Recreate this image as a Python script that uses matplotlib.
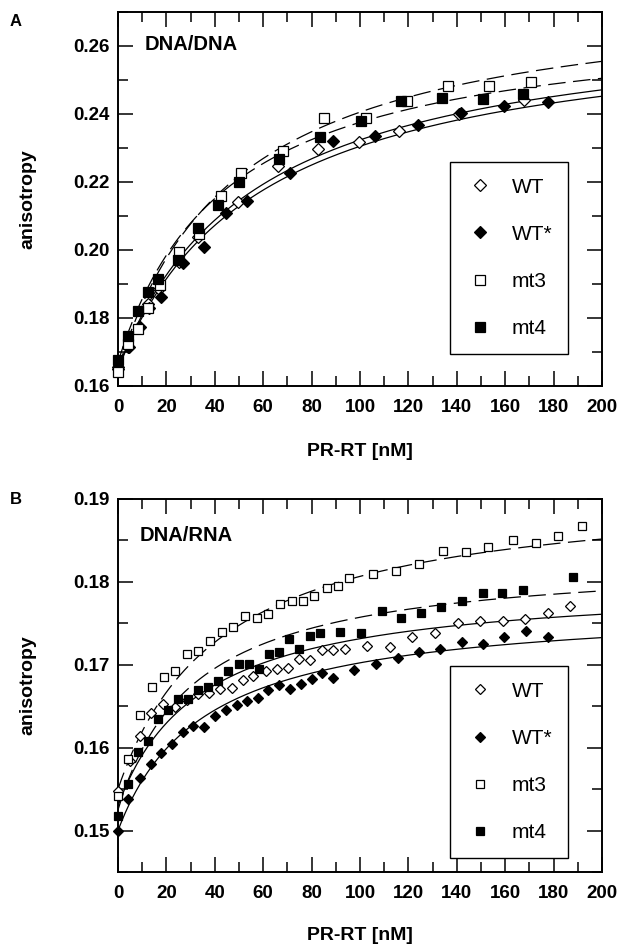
import matplotlib
matplotlib.use("Agg")
import matplotlib.pyplot as plt
import numpy as np
from matplotlib.ticker import MultipleLocator, FormatStrFormatter

plt.rcParams["font.family"] = ["Liberation Sans", "DejaVu Sans"]
plt.rcParams["font.weight"] = "bold"

W_PX, H_PX, DPI = 623, 946, 100

# ---- panel A: DNA/DNA ------------------------------------------------------
A_WT_X = [0, 4, 8.5, 12.5, 17, 25, 33.2, 49.7, 66.2, 82.8, 99.7, 116.2, 141, 167.8]
A_WT_Y = [0.1650, 0.1715, 0.1775, 0.1840, 0.1885, 0.1965, 0.2039, 0.2142, 0.2248,
          0.2297, 0.2319, 0.2351, 0.2400, 0.2441]
A_WTS_X = [0, 4.5, 9, 13, 17.8, 27, 35.7, 44.6, 53.2, 71.1, 88.7, 106.2, 124.1, 141.7, 159.6, 177.8]
A_WTS_Y = [0.1655, 0.1715, 0.1775, 0.1830, 0.1863, 0.1963, 0.2008, 0.2108, 0.2144, 0.2226,
           0.2321, 0.2335, 0.2368, 0.2402, 0.2424, 0.2436]
A_MT3_X = [0, 4, 8.4, 12.5, 17.4, 25.3, 33.6, 42.4, 50.8, 68, 85.2, 102.5, 119.3, 136.2, 153.4, 170.5]
A_MT3_Y = [0.1642, 0.1723, 0.1767, 0.1829, 0.1897, 0.1995, 0.2047, 0.2159, 0.2226, 0.2291,
           0.2387, 0.2387, 0.2439, 0.2482, 0.2482, 0.2495]
A_MT4_X = [0, 4, 8.4, 12.5, 16.6, 24.9, 33.2, 41.4, 50.1, 66.6, 83.5, 100.3, 116.9, 133.8, 150.7, 167.2]
A_MT4_Y = [0.1676, 0.1747, 0.1821, 0.1877, 0.1914, 0.1971, 0.2064, 0.2132, 0.2201, 0.2267,
           0.2333, 0.2378, 0.2439, 0.2446, 0.2444, 0.2458]
# hyperbolic binding fits: (y0, amplitude, Kd)
A_FITS = {"WT": (0.165, 0.1051, 56.0), "WT*": (0.165, 0.1035, 58.0),
          "mt3": (0.165, 0.1128, 49.3), "mt4": (0.167, 0.1023, 45.0)}

# ---- panel B: DNA/RNA ------------------------------------------------------
B_WT_X = [0, 4.9, 9.1, 13.6, 18.5, 23.6, 28.4, 33.2, 37.7, 42.1, 47, 51.5, 55.9, 61.2, 65.6,
          70.4, 74.9, 79.3, 84.2, 89, 93.8, 102.8, 112.4, 121.6, 131, 140.4, 149.6, 159.2,
          168.2, 177.8, 186.8]
B_WT_Y = [0.1548, 0.1584, 0.1614, 0.1642, 0.1653, 0.1649, 0.1657, 0.1665, 0.1666, 0.1671,
          0.1672, 0.1682, 0.1686, 0.1693, 0.1695, 0.1696, 0.1707, 0.1706, 0.1718, 0.1718,
          0.1719, 0.1723, 0.1721, 0.1734, 0.1738, 0.1750, 0.1753, 0.1753, 0.1755, 0.1762,
          0.1771]
B_WTS_X = [0, 4.3, 9.1, 13.6, 17.8, 22.2, 27, 31.1, 35.7, 40.1, 44.5, 49, 53.2, 58, 62.1,
           66.7, 71.1, 75.5, 80, 84.4, 89, 97.7, 106.5, 115.8, 124.4, 133.1, 142.3, 151,
           159.6, 168.6, 177.8]
B_WTS_Y = [0.1500, 0.1538, 0.1563, 0.1580, 0.1594, 0.1604, 0.1619, 0.1626, 0.1625, 0.1638,
           0.1645, 0.1651, 0.1656, 0.1660, 0.1669, 0.1675, 0.1671, 0.1677, 0.1683, 0.1690,
           0.1684, 0.1694, 0.1701, 0.1708, 0.1716, 0.1719, 0.1727, 0.1725, 0.1734, 0.1741,
           0.1734]
B_MT3_X = [0, 4.3, 9.1, 13.9, 19, 23.6, 28.4, 33.2, 38, 42.8, 47.7, 52.5, 57.3, 62.1, 66.9,
           71.8, 76.6, 81.1, 86.2, 90.8, 95.6, 105.2, 114.9, 124.5, 134.2, 143.8, 153, 163.1,
           172.6, 181.9, 191.6]
B_MT3_Y = [0.1542, 0.1586, 0.1640, 0.1673, 0.1685, 0.1692, 0.1713, 0.1717, 0.1729, 0.1740,
           0.1745, 0.1759, 0.1757, 0.1761, 0.1773, 0.1777, 0.1777, 0.1783, 0.1793, 0.1795,
           0.1805, 0.1810, 0.1813, 0.1822, 0.1837, 0.1836, 0.1842, 0.1851, 0.1847, 0.1855,
           0.1868]
B_MT4_X = [0, 4, 8.4, 12.3, 16.7, 20.8, 24.9, 29, 33.2, 37.3, 41.4, 45.6, 50.1, 54.3, 58.4,
           62.5, 66.7, 70.8, 74.9, 79.3, 83.5, 91.7, 100.3, 109, 116.9, 125.2, 133.5, 142,
           150.7, 158.8, 167.2, 188.1]
B_MT4_Y = [0.1518, 0.1556, 0.1595, 0.1608, 0.1635, 0.1646, 0.1659, 0.1659, 0.1669, 0.1673,
           0.1681, 0.1692, 0.1701, 0.1701, 0.1695, 0.1713, 0.1715, 0.1731, 0.1719, 0.1735,
           0.1738, 0.1739, 0.1738, 0.1765, 0.1757, 0.1763, 0.1770, 0.1777, 0.1787, 0.1786,
           0.1790, 0.1806]
B_FITS = {"WT": (0.153, 0.02706, 34.3), "WT*": (0.150, 0.0274, 35.4),
          "mt3": (0.155, 0.0366, 42.6), "mt4": (0.1525, 0.0306, 31.7)}

LABELS = ["WT", "WT*", "mt3", "mt4"]
MARKERS = {"WT": ("D", "white"), "WT*": ("D", "black"), "mt3": ("s", "white"), "mt4": ("s", "black")}
LINESTYLE = {"WT": "solid", "WT*": "solid", "mt3": "dashed", "mt4": "dashed"}


def px_axes(fig, left, top, right, bottom):
    return fig.add_axes((left / W_PX, 1 - bottom / H_PX, (right - left) / W_PX, (bottom - top) / H_PX))


def style_axes(ax, ylim, ymajor, yminor):
    ax.set_xlim(0, 200)
    ax.set_ylim(*ylim)
    ax.xaxis.set_major_locator(MultipleLocator(20))
    ax.xaxis.set_minor_locator(MultipleLocator(10))
    ax.yaxis.set_major_locator(MultipleLocator(ymajor))
    ax.yaxis.set_minor_locator(MultipleLocator(yminor))
    ax.yaxis.set_major_formatter(FormatStrFormatter("%.2f"))
    ax.tick_params(which="both", direction="in", top=True, right=True, width=1.1, labelsize=13.5)
    ax.tick_params(which="major", length=10.5)
    ax.tick_params(which="minor", length=7)
    ax.tick_params(axis="x", pad=9)
    ax.tick_params(axis="y", pad=6)
    for s in ax.spines.values():
        s.set_linewidth(1.4)
    ax.set_xlabel("PR-RT [nM]", fontsize=14, fontweight="bold")
    ax.set_ylabel("anisotropy", fontsize=14, fontweight="bold")
    ax.yaxis.set_label_coords(-0.168, 0.5)


def draw_panel(ax, series, fits, ms_d, ms_s, legend_xy, tag_xy, tag):
    xs = np.linspace(0, 200, 400)
    for name in LABELS:
        y0, amp, kd = fits[name]
        kw = dict(dashes=(14, 6)) if LINESTYLE[name] == "dashed" else {}
        ax.plot(xs, y0 + amp * xs / (kd + xs), color="black", lw=0.9, zorder=2, **kw)
    handles = []
    for name in LABELS:
        x, y = series[name]
        marker, fc = MARKERS[name]
        h, = ax.plot(x, y, linestyle="none", marker=marker, mfc=fc, mec="black", mew=0.9,
                     ms=ms_d if marker == "D" else ms_s, zorder=3, clip_on=False, label=name)
        handles.append(h)
    leg = ax.legend(handles=handles, loc="upper left", bbox_to_anchor=legend_xy,
                    prop={"size": 15, "weight": "normal"}, frameon=True, fancybox=False,
                    edgecolor="black", framealpha=1, borderpad=0.75, labelspacing=1.35,
                    handlelength=1.4, handletextpad=0.8, borderaxespad=0)
    leg.get_frame().set_linewidth(1.0)
    ax.text(tag_xy[0], tag_xy[1], tag, transform=ax.transAxes, fontsize=14.5,
            fontweight="bold", ha="left", va="center")


fig = plt.figure(figsize=(W_PX / DPI, H_PX / DPI), dpi=DPI, facecolor="white")

ax_a = px_axes(fig, 118, 12, 602, 386)
style_axes(ax_a, (0.16, 0.27), 0.02, 0.01)
ax_a.xaxis.set_label_coords(0.5, -0.152)
draw_panel(ax_a, {"WT": (A_WT_X, A_WT_Y), "WT*": (A_WTS_X, A_WTS_Y),
                  "mt3": (A_MT3_X, A_MT3_Y), "mt4": (A_MT4_X, A_MT4_Y)},
           A_FITS, 5.8, 6.8, (0.686, 0.599), (0.055, 0.912), "DNA/DNA")

ax_b = px_axes(fig, 118, 499, 602, 872)
style_axes(ax_b, (0.145, 0.19), 0.01, 0.005)
ax_b.xaxis.set_label_coords(0.5, -0.147)
draw_panel(ax_b, {"WT": (B_WT_X, B_WT_Y), "WT*": (B_WTS_X, B_WTS_Y),
                  "mt3": (B_MT3_X, B_MT3_Y), "mt4": (B_MT4_X, B_MT4_Y)},
           B_FITS, 5.2, 6.2, (0.686, 0.552), (0.045, 0.901), "DNA/RNA")

fig.text(16 / W_PX, 1 - 22 / H_PX, "A", fontsize=12, fontweight="bold", ha="center", va="center")
fig.text(16 / W_PX, 1 - 499 / H_PX, "B", fontsize=12, fontweight="bold", ha="center", va="center")

fig.savefig("out.png", dpi=DPI, facecolor="white")
